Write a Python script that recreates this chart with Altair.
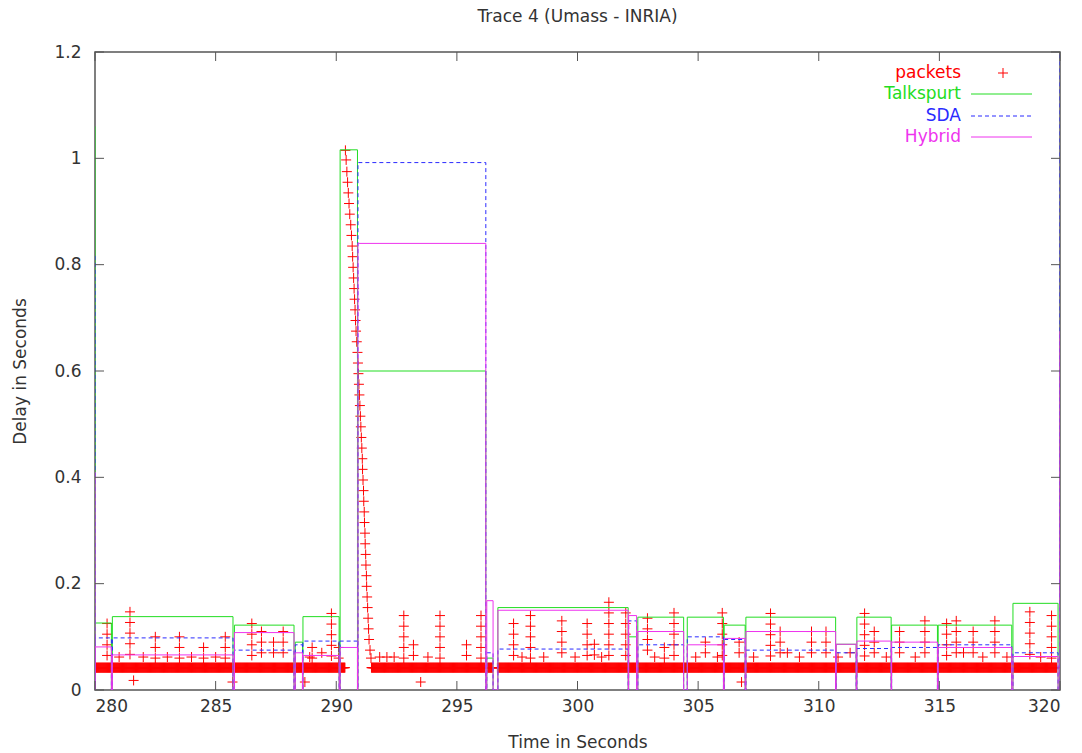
import altair as alt
import pandas as pd

# ---------------------------------------------------------------------------
# Talkspurts: start/end (s) and the playout delay (s) chosen by each algorithm
# ---------------------------------------------------------------------------
seg_start = [279.0, 280.0, 280.72, 285.78, 288.3, 288.62, 290.16, 290.9, 296.24,
             296.7, 302.12, 302.5, 304.55, 306.08, 306.98, 310.72, 311.58,
             313.02, 314.95, 318.05, 320.0]
seg_end = [280.0, 280.68, 285.72, 288.25, 288.6, 290.12, 290.88, 296.2, 296.5,
           302.1, 302.45, 304.4, 306.05, 306.95, 310.7, 311.55, 313.0,
           314.92, 318.0, 319.92, 321.0]
talkspurt = [1.06, 0.126, 0.138, 0.122, 0.09, 0.138, 1.016, 0.60, 0.06,
             0.155, 0.10, 0.137, 0.137, 0.122, 0.137, 0.086, 0.137,
             0.122, 0.122, 0.163, 0.10]
sda = [0.82, 0.098, 0.098, 0.075, 0.085, 0.092, 0.092, 0.992, 0.07,
       0.077, 0.13, 0.085, 0.10, 0.095, 0.075, 0.07, 0.078,
       0.08, 0.085, 0.07, 1.4]
hybrid = [0.41, 0.081, 0.066, 0.108, 0.07, 0.065, 0.08, 0.84, 0.168,
          0.15, 0.14, 0.11, 0.085, 0.097, 0.11, 0.086, 0.092,
          0.09, 0.08, 0.063, 0.675]

# ---------------------------------------------------------------------------
# Packets
# ---------------------------------------------------------------------------
# runs of packets arriving at the base network delay (one packet every 20 ms)
packet_interval = 0.02
band_start = [280.0, 291.46, 296.28, 296.68]
band_end = [290.36, 296.16, 296.48, 319.86]
band_delay = [0.042, 0.042, 0.042, 0.042]

# the delay spike near 290 s
spike_times = [290.38, 290.41, 290.44, 290.47, 290.50, 290.53, 290.56, 290.60,
               290.63, 290.66, 290.68, 290.70, 290.72, 290.74, 290.76, 290.78,
               290.80, 290.82, 290.85, 290.88, 290.90, 290.92, 290.94, 290.96,
               290.98, 291.00, 291.02, 291.04, 291.06, 291.08, 291.09, 291.11,
               291.13, 291.14, 291.16, 291.17, 291.19, 291.20, 291.22, 291.23,
               291.25, 291.26, 291.28, 291.30, 291.32, 291.34, 291.36, 291.40,
               291.44]
spike_delays = [1.015, 0.997, 0.975, 0.955, 0.935, 0.915, 0.895, 0.875,
                0.855, 0.835, 0.815, 0.795, 0.775, 0.755, 0.735, 0.715,
                0.695, 0.675, 0.655, 0.635, 0.615, 0.595, 0.575, 0.555,
                0.535, 0.515, 0.495, 0.475, 0.455, 0.435, 0.415, 0.395,
                0.375, 0.355, 0.335, 0.315, 0.295, 0.275, 0.255, 0.235,
                0.215, 0.195, 0.175, 0.155, 0.135, 0.115, 0.095, 0.075,
                0.06]

# short bursts of late packets
col_times = [280.5, 281.45, 282.5, 283.5, 284.5, 285.4, 286.5, 286.9, 287.4,
             287.8, 289.0, 289.4, 289.8, 290.1, 292.1, 292.8, 293.2, 294.3,
             295.4, 296.0, 297.35, 298.05, 299.35, 300.4, 300.7, 301.3, 302.0,
             302.9, 303.6, 304.0, 305.3, 306.0, 306.7, 308.0, 308.4, 308.7,
             309.7, 310.3, 311.3, 311.9, 312.3, 313.35, 314.4, 315.3, 315.7,
             316.0, 316.4, 317.3, 318.75, 319.65]
col_delays = [
    [0.125, 0.105, 0.085, 0.065], [0.147, 0.127, 0.107, 0.087, 0.067],
    [0.10, 0.08, 0.06], [0.10, 0.08, 0.06], [0.08, 0.06], [0.10, 0.08, 0.06],
    [0.125, 0.105, 0.085, 0.065], [0.11, 0.09, 0.07], [0.09, 0.07],
    [0.11, 0.09, 0.07], [0.08, 0.06], [0.07], [0.144, 0.124, 0.104, 0.084, 0.064],
    [0.08, 0.06], [0.062], [0.14, 0.12, 0.10, 0.08, 0.06], [0.085, 0.065],
    [0.14, 0.12, 0.10, 0.08, 0.06], [0.085, 0.065], [0.14, 0.12, 0.10, 0.08, 0.06],
    [0.125, 0.105, 0.085, 0.065], [0.14, 0.12, 0.10, 0.08, 0.06],
    [0.13, 0.11, 0.09, 0.07], [0.125, 0.105, 0.085, 0.065], [0.086, 0.066],
    [0.165, 0.145, 0.125, 0.105, 0.085, 0.065], [0.145, 0.125, 0.105, 0.085, 0.065],
    [0.135, 0.115, 0.095, 0.075], [0.08, 0.06], [0.145, 0.125, 0.105, 0.085, 0.065],
    [0.09, 0.07], [0.145, 0.125, 0.105, 0.085, 0.065], [0.09, 0.07],
    [0.144, 0.124, 0.104, 0.084, 0.064], [0.11, 0.09, 0.07], [0.07],
    [0.11, 0.09, 0.07], [0.11, 0.09, 0.07], [0.07], [0.144, 0.124, 0.104, 0.084, 0.064],
    [0.11, 0.09, 0.07], [0.11, 0.09, 0.07], [0.13, 0.11, 0.09, 0.07],
    [0.125, 0.105, 0.085, 0.065], [0.13, 0.11, 0.09, 0.07], [0.07],
    [0.11, 0.09, 0.07], [0.13, 0.11, 0.09, 0.07],
    [0.147, 0.127, 0.107, 0.087, 0.067], [0.14, 0.12, 0.10, 0.08, 0.06],
]

# single packets slightly above or below the base delay
single_times = [281.0, 281.6, 282.0, 283.0, 284.0, 285.0, 285.7, 288.7, 288.9,
                291.8, 292.4, 293.5, 293.8, 297.7, 298.6, 299.9, 301.0, 303.2,
                304.9, 305.8, 306.8, 307.3, 309.2, 310.8, 312.8, 314.0, 316.8,
                317.8, 319.2]
single_delays = [0.062, 0.018, 0.062, 0.062, 0.062, 0.062, 0.015, 0.015, 0.062,
                 0.062, 0.062, 0.015, 0.062, 0.062, 0.062, 0.062, 0.062, 0.062,
                 0.062, 0.062, 0.015, 0.062, 0.062, 0.062, 0.062, 0.062, 0.062,
                 0.062, 0.062]

x_ticks = [280, 285, 290, 295, 300, 305, 310, 315, 320]
y_ticks = [0, 0.2, 0.4, 0.6, 0.8, 1.0, 1.2]

# ---------------------------------------------------------------------------
FONT = "DejaVu Sans"
TEXT = "#333333"
RED, GREEN, BLUE, MAGENTA = "#ff0000", "#22dd22", "#2b2bff", "#ee33ee"
CROSS = "M -1 0 L 1 0 M 0 -1 L 0 1"
CROSS_SIZE = 100
W, H = 965, 638

packet_rows = []
for s, e, d in zip(band_start, band_end, band_delay):
    n = int(round((e - s) / packet_interval))
    for k in range(n + 1):
        packet_rows.append({"t": s + k * packet_interval, "d": d})
for t, d in zip(spike_times, spike_delays):
    packet_rows.append({"t": t, "d": d})
for t, ds in zip(col_times, col_delays):
    for d in ds:
        packet_rows.append({"t": t, "d": d})
for t, d in zip(single_times, single_delays):
    packet_rows.append({"t": t, "d": d})
packets = pd.DataFrame(packet_rows)


def step_frame(values):
    rows = []
    i = 0
    for s, e, v in zip(seg_start, seg_end, values):
        for t, d in ((s, 0.0), (s, v), (e, v), (e, 0.0)):
            rows.append({"t": t, "d": d, "i": i})
            i += 1
    return pd.DataFrame(rows)


x_scale = alt.Scale(domain=[280, 320], nice=False, zero=False)
y_scale = alt.Scale(domain=[0, 1.2], nice=False)
X = alt.X("t:Q", scale=x_scale,
          axis=alt.Axis(values=x_ticks, format="d", title="Time in Seconds"))
Y = alt.Y("d:Q", scale=y_scale,
          axis=alt.Axis(values=y_ticks, format="~g", title="Delay in Seconds"))

packet_layer = alt.Chart(packets).mark_point(
    shape=CROSS, filled=False, size=CROSS_SIZE, strokeWidth=1, color=RED,
    opacity=1, clip=True
).encode(x=X, y=Y)


def line_layer(values, color, dash=None):
    kw = dict(color=color, strokeWidth=1, clip=True)
    if dash:
        kw["strokeDash"] = dash
    return alt.Chart(step_frame(values)).mark_line(**kw).encode(
        x=X, y=Y, order=alt.Order("i:Q"))


ts_layer = line_layer(talkspurt, GREEN)
sda_layer = line_layer(sda, BLUE, [4, 3])
hy_layer = line_layer(hybrid, MAGENTA)

# inward tick marks on all four sides of the frame
xt = pd.DataFrame({"t": x_ticks})
yt = pd.DataFrame({"d": y_ticks})
tick_style = dict(color="#555555", strokeWidth=1)
ticks = [
    alt.Chart(xt).mark_rule(**tick_style).encode(x=X, y=alt.value(H), y2=alt.value(H - 9)),
    alt.Chart(xt).mark_rule(**tick_style).encode(x=X, y=alt.value(0), y2=alt.value(9)),
    alt.Chart(yt).mark_rule(**tick_style).encode(y=Y, x=alt.value(0), x2=alt.value(9)),
    alt.Chart(yt).mark_rule(**tick_style).encode(y=Y, x=alt.value(W), x2=alt.value(W - 9)),
]

# key in the top-right corner: label, then a sample of the mark
one = pd.DataFrame({"k": [0]})
key = []
key_items = [("packets", RED, 21), ("Talkspurt", GREEN, 42), ("SDA", BLUE, 64), ("Hybrid", MAGENTA, 85)]
for label, color, ky in key_items:
    key.append(alt.Chart(one).mark_text(
        align="right", baseline="middle", font=FONT, fontSize=17, color=color
    ).encode(x=alt.value(866), y=alt.value(ky), text=alt.value(label)))
key.append(alt.Chart(one).mark_point(
    shape=CROSS, filled=False, size=CROSS_SIZE, strokeWidth=1, color=RED, opacity=1
).encode(x=alt.value(908), y=alt.value(21)))
key.append(alt.Chart(one).mark_rule(color=GREEN, strokeWidth=1).encode(
    x=alt.value(876), x2=alt.value(937), y=alt.value(42)))
key.append(alt.Chart(one).mark_rule(color=BLUE, strokeWidth=1, strokeDash=[4, 3]).encode(
    x=alt.value(876), x2=alt.value(937), y=alt.value(64)))
key.append(alt.Chart(one).mark_rule(color=MAGENTA, strokeWidth=1).encode(
    x=alt.value(876), x2=alt.value(937), y=alt.value(85)))

chart = alt.layer(
    packet_layer, ts_layer, sda_layer, hy_layer, *ticks, *key
).properties(
    width=W,
    height=H,
    title=alt.TitleParams("Trace 4 (Umass - INRIA)", font=FONT, fontSize=17,
                          fontWeight="normal", color=TEXT, offset=17),
    autosize=alt.AutoSizeParams(type="none"),
    padding={"left": 95, "top": 52, "right": 22, "bottom": 63},
).configure_view(
    stroke="#555555", strokeWidth=1.5
).configure_axis(
    domain=False, ticks=False, grid=False,
    labelFont=FONT, labelFontSize=17, labelColor=TEXT,
    titleFont=FONT, titleFontSize=17, titleFontWeight="normal", titleColor=TEXT,
).configure_axisX(
    labelPadding=8, titlePadding=20,
).configure_axisY(
    labelPadding=14, titlePadding=24,
)

chart.save("out.html", embed_options={"renderer": "svg", "actions": False})
